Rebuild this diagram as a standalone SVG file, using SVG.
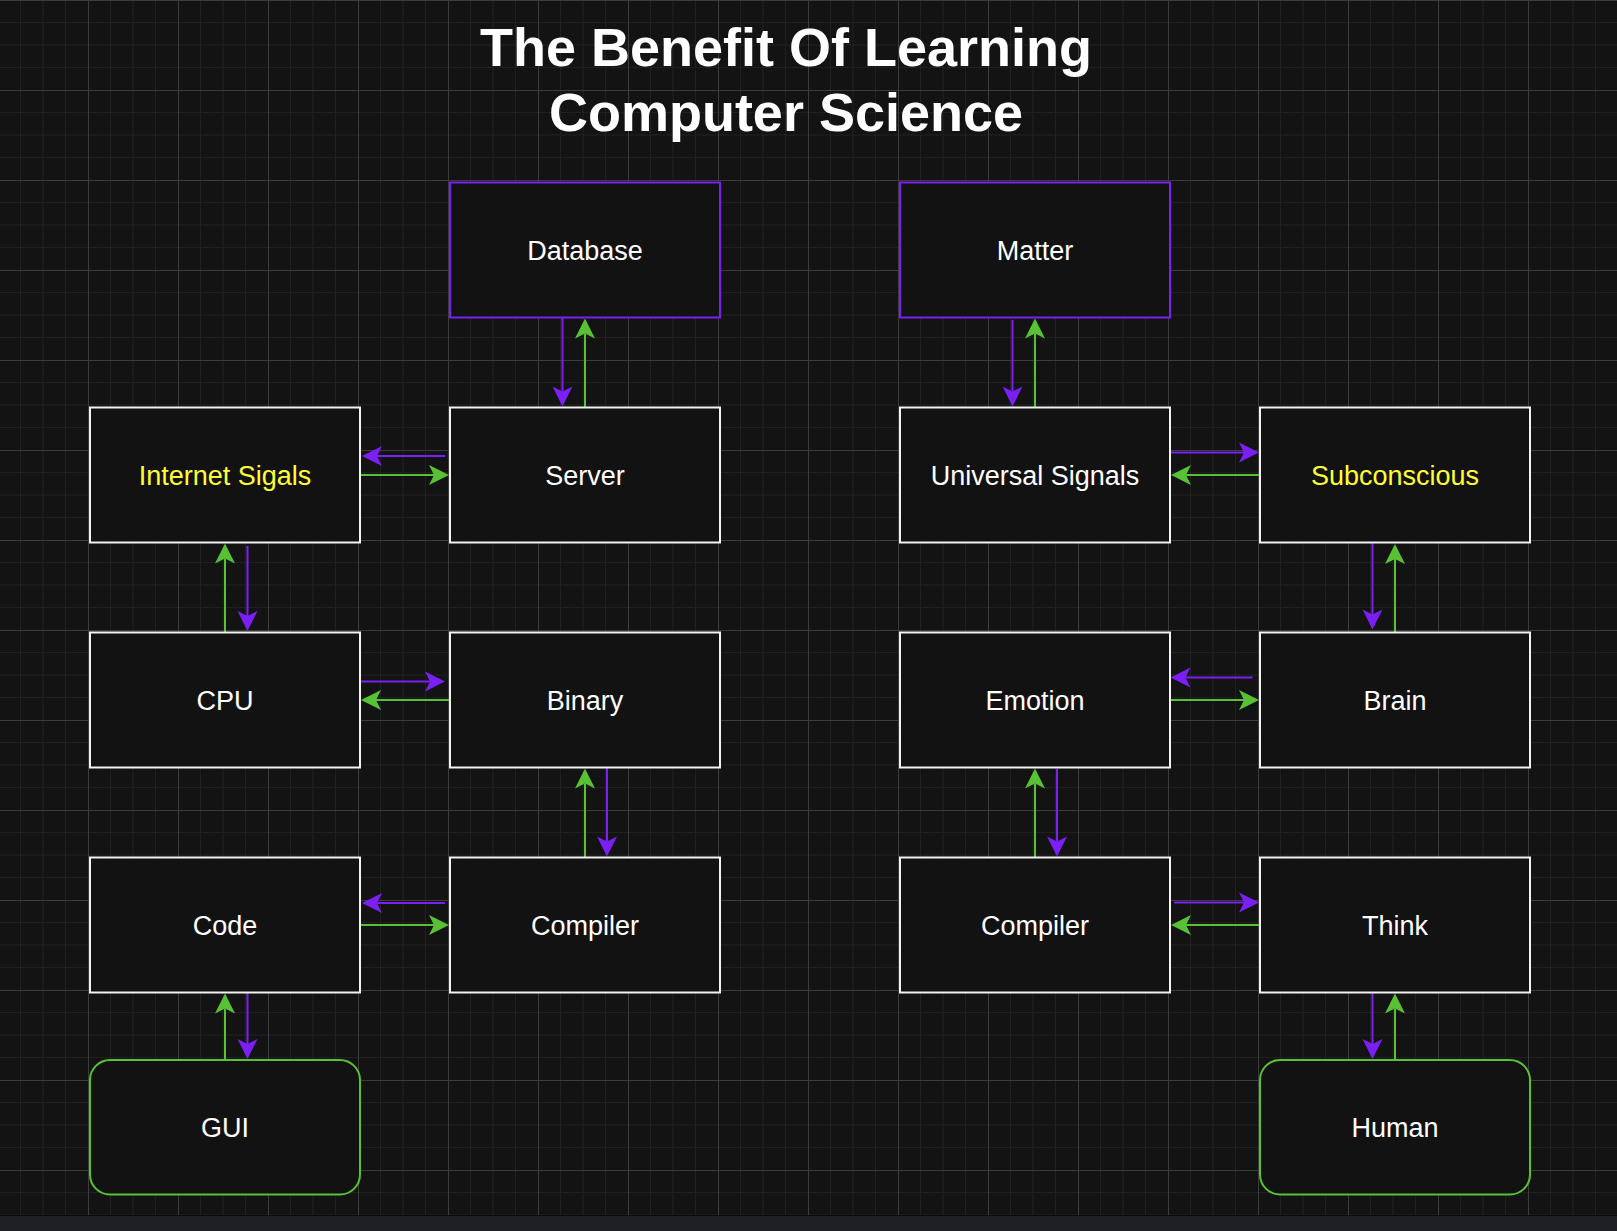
<svg xmlns="http://www.w3.org/2000/svg" width="1617" height="1231" viewBox="0 0 1617 1231">
<style>
.node rect{fill:#121212;stroke:#f2f2f2;stroke-width:2}
.node.top rect{stroke:#7B1FF5}
.node.end rect{stroke:#58C234}
.node text{font-family:"Liberation Sans",Arial,sans-serif;font-size:27px;fill:#ffffff;text-anchor:middle}
.node.hi text{fill:#FFFF33}
.title{font-family:"Liberation Sans",Arial,sans-serif;font-size:54px;font-weight:bold;fill:#ffffff;text-anchor:middle}
.p{stroke:#7B1FF5;stroke-width:2;fill:none;marker-end:url(#ap)}
.g{stroke:#58C234;stroke-width:2;fill:none;marker-end:url(#ag)}
</style>
<defs>
<pattern id="grid" patternUnits="userSpaceOnUse" x="88" y="0" width="90" height="90">
<rect width="90" height="90" fill="#131313"/>
<path d="M22.5 0V90M45 0V90M67.5 0V90M0 22.5H90M0 45H90M0 67.5H90" stroke="#202020" stroke-width="1"/>
<path d="M0.5 0V90M0 0.5H90" stroke="#3c3c3c" stroke-width="1"/>
</pattern>
<marker id="ap" markerUnits="userSpaceOnUse" viewBox="0 -11 22 22" markerWidth="22" markerHeight="22" refX="5" refY="0" orient="auto" overflow="visible">
<path d="M20 0L0 -10L5 0L0 10Z" fill="#7B1FF5"/>
</marker>
<marker id="ag" markerUnits="userSpaceOnUse" viewBox="0 -11 22 22" markerWidth="22" markerHeight="22" refX="5" refY="0" orient="auto" overflow="visible">
<path d="M20 0L0 -10L5 0L0 10Z" fill="#58C234"/>
</marker>
</defs>
<rect x="0" y="0" width="1617" height="1215" fill="url(#grid)"/>
<rect x="0" y="1215" width="1617" height="16" fill="#1f2023"/>
<line x1="0" y1="1215.5" x2="1617" y2="1215.5" stroke="#0a0a0a" stroke-width="1"/>

<g id="title">
<text class="title" x="786" y="66">The Benefit Of Learning</text>
<text class="title" x="786" y="131">Computer Science</text>
</g>

<g id="connectors">
<path class="p" d="M562.5 317.5V391.5"/>
<path class="g" d="M585 407.5V333.5"/>
<path class="p" d="M445 456H377"/>
<path class="g" d="M360 475H434"/>
<path class="g" d="M225 632.5V558.5"/>
<path class="p" d="M247.5 546V616"/>
<path class="p" d="M360 681.5H430"/>
<path class="g" d="M450 700H376"/>
<path class="g" d="M585 857.5V783.5"/>
<path class="p" d="M607 767.5V841.5"/>
<path class="p" d="M445 903H377"/>
<path class="g" d="M360 925H434"/>
<path class="g" d="M225 1060V1008.5"/>
<path class="p" d="M247.5 993V1044"/>
<path class="p" d="M1012.5 320V391.5"/>
<path class="g" d="M1035 407.5V333.5"/>
<path class="p" d="M1170 452.5H1244"/>
<path class="g" d="M1260 475H1186"/>
<path class="p" d="M1372.5 542.5V614.5"/>
<path class="g" d="M1395 632.5V559"/>
<path class="p" d="M1252.5 677.5H1185.5"/>
<path class="g" d="M1170 700H1244"/>
<path class="g" d="M1035 857.5V783.5"/>
<path class="p" d="M1057 769V841.5"/>
<path class="p" d="M1174 902.5H1244"/>
<path class="g" d="M1260 925H1186"/>
<path class="p" d="M1372.5 992.5V1044"/>
<path class="g" d="M1395 1060V1008.5"/>
</g>

<g id="database" class="node top"><rect x="450" y="182.5" width="270" height="135"/><text x="585" y="259.5">Database</text></g>
<g id="matter" class="node top"><rect x="900" y="182.5" width="270" height="135"/><text x="1035" y="259.5">Matter</text></g>
<g id="internet-sigals" class="node hi"><rect x="90" y="407.5" width="270" height="135"/><text x="225" y="484.5">Internet Sigals</text></g>
<g id="server" class="node"><rect x="450" y="407.5" width="270" height="135"/><text x="585" y="484.5">Server</text></g>
<g id="universal-signals" class="node"><rect x="900" y="407.5" width="270" height="135"/><text x="1035" y="484.5">Universal Signals</text></g>
<g id="subconscious" class="node hi"><rect x="1260" y="407.5" width="270" height="135"/><text x="1395" y="484.5">Subconscious</text></g>
<g id="cpu" class="node"><rect x="90" y="632.5" width="270" height="135"/><text x="225" y="709.5">CPU</text></g>
<g id="binary" class="node"><rect x="450" y="632.5" width="270" height="135"/><text x="585" y="709.5">Binary</text></g>
<g id="emotion" class="node"><rect x="900" y="632.5" width="270" height="135"/><text x="1035" y="709.5">Emotion</text></g>
<g id="brain" class="node"><rect x="1260" y="632.5" width="270" height="135"/><text x="1395" y="709.5">Brain</text></g>
<g id="code" class="node"><rect x="90" y="857.5" width="270" height="135"/><text x="225" y="934.5">Code</text></g>
<g id="compiler-left" class="node"><rect x="450" y="857.5" width="270" height="135"/><text x="585" y="934.5">Compiler</text></g>
<g id="compiler-right" class="node"><rect x="900" y="857.5" width="270" height="135"/><text x="1035" y="934.5">Compiler</text></g>
<g id="think" class="node"><rect x="1260" y="857.5" width="270" height="135"/><text x="1395" y="934.5">Think</text></g>
<g id="gui" class="node end"><rect x="90" y="1060" width="270" height="134.5" rx="20" ry="20"/><text x="225" y="1137">GUI</text></g>
<g id="human" class="node end"><rect x="1260" y="1060" width="270" height="134.5" rx="20" ry="20"/><text x="1395" y="1137">Human</text></g>
</svg>
